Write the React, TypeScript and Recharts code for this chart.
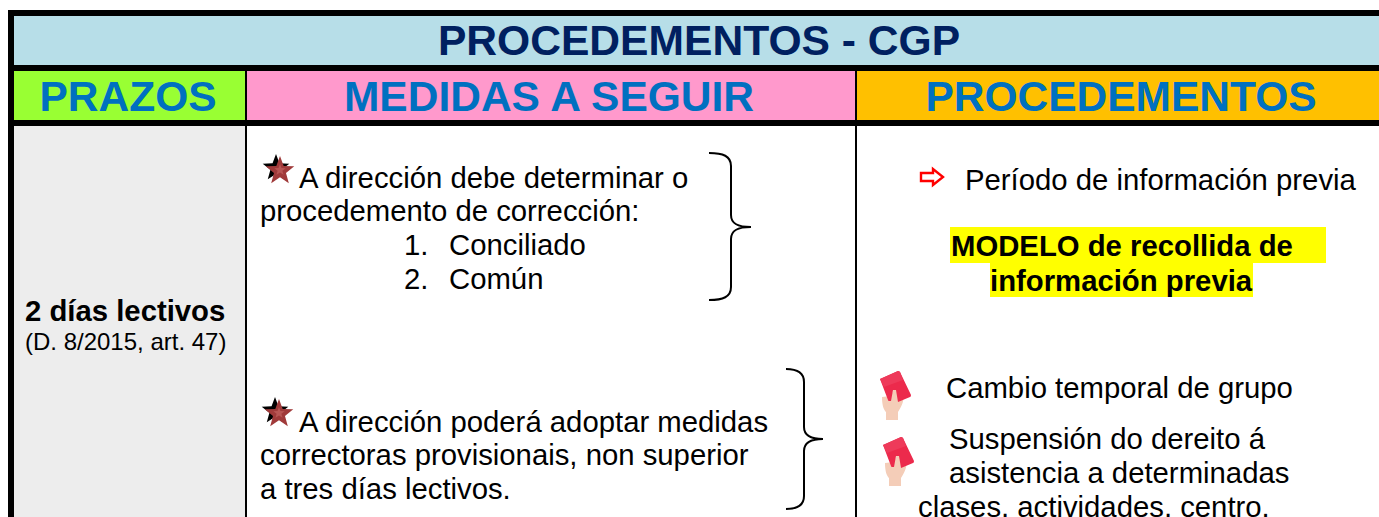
import React from "react";
import { ComposedChart, XAxis, YAxis, ReferenceArea, Scatter } from "recharts";

const WIDTH = 1379;
const HEIGHT = 517;
const FONT = "'Liberation Sans', Arial, sans-serif";

// Table grid on a page-unit scale
const columnEdges = [14, 245, 247, 855, 857, 1379];
const rowEdges = [16, 65, 71, 120, 126, 517];

// Texts
const titleLabels = ["PROCEDEMENTOS - CGP"];
const titleX = [699];
const titleY = [55];

const headerLabels = ["PRAZOS", "MEDIDAS A SEGUIR", "PROCEDEMENTOS"];
const headerX = [128, 549, 1121];
const headerY = [111, 111, 111];

const bodyLabels = [
  "A dirección debe determinar o",
  "procedemento de corrección:",
  "1.",
  "Conciliado",
  "2.",
  "Común",
  "A dirección poderá adoptar medidas",
  "correctoras provisionais, non superior",
  "a tres días lectivos.",
  "Período de información previa",
  "Cambio temporal de grupo",
  "Suspensión do dereito á",
  "asistencia a determinadas",
  "clases, actividades, centro.",
];
const bodyX = [299, 260, 404, 449, 404, 449, 299, 260, 260, 965, 946, 949, 949, 918];
const bodyY = [188, 221, 255, 255, 289, 289, 432, 465, 499, 190, 398, 449, 483, 517];

const boldLabels = ["MODELO de recollida de", "información previa", "2 días lectivos"];
const boldX = [951, 990, 25];
const boldY = [256, 291, 321];

const smallLabels = ["(D. 8/2015, art. 47)"];
const smallX = [25];
const smallY = [350];

// Icons
const starX = [280, 279];
const starY = [171, 414];
const arrowX = [932];
const arrowY = [177];
const cardX = [895, 898];
const cardY = [398, 464];
const braceX = [709, 786];
const braceSpine = [731, 804];
const braceTop = [153, 369];
const braceBottom = [300, 509];
const braceTip = [751, 823];
const braceMid = [227, 439];

const zip = (xs: number[], ys: number[], labels?: string[]) =>
  xs.map((x, i) => ({ x, y: ys[i], label: labels ? labels[i] : "" }));

const makeText =
  (size: number, weight: string, color: string, anchor: string) =>
  (p: any) => (
    <text
      x={p.cx}
      y={p.cy}
      fontFamily={FONT}
      fontSize={size}
      fontWeight={weight}
      fill={color}
      textAnchor={anchor as any}
    >
      {p.payload.label}
    </text>
  );

const starPoints = (cx: number, cy: number, r: number) => {
  const pts: string[] = [];
  for (let i = 0; i < 10; i++) {
    const a = -Math.PI / 2 + (i * Math.PI) / 5;
    const rr = i % 2 === 0 ? r : r * 0.42;
    pts.push(`${cx + rr * Math.cos(a)},${cy + rr * Math.sin(a)}`);
  }
  return pts.join(" ");
};

const StarShape = (p: any) => (
  <g>
    <polygon points={starPoints(p.cx - 4, p.cy - 3, 14)} fill="#000" />
    <polygon points={starPoints(p.cx, p.cy, 15)} fill="#a03a3a" />
    <polygon points={starPoints(p.cx, p.cy - 1, 6)} fill="#b85654" />
  </g>
);

const ArrowShape = (p: any) => (
  <path
    transform={`translate(${p.cx} ${p.cy})`}
    d="M-11,-4 H1 V-8 L11,0 L1,8 V4 H-11 Z"
    fill="#fff"
    stroke="#f00"
    strokeWidth={2.4}
  />
);

const CardShape = (p: any) => (
  <g transform={`translate(${p.cx} ${p.cy})`}>
    <path d="M-13,-1 C-13,8 -11,12 -9,14 V22 H3 V14 C8,6 9,2 8,-2 L3,-4 V-10 H-1 L-4,-2 Z" fill="#f4cdb8" />
    <path d="M-15,-19 L3,-27 Q4,-27 5,-26 L16,-3 Q16,-1 15,-1 L3,4 L1,-8 L-2,-8 L-4,3 L-6,3 Q-7,3 -7,2 Z" fill="#ec2a4c" />
    <path d="M-15,-19 L3,-27 Q4,-27 5,-26 L8,-18 L-11,-11 Z" fill="#ee3a5a" />
  </g>
);

const BraceShape = (p: any) => {
  const { x, y, top, bottom, tip, spine } = p.payload;
  const k = p.cy - y;
  const x0 = p.cx;
  const tipX = p.cx + (tip - x);
  const sp = p.cx + (spine - x);
  const t = top + k;
  const b = bottom + k;
  const m = p.cy;
  return (
    <path
      d={`M${x0},${t} C${sp - 8},${t} ${sp},${t + 3} ${sp},${t + 13}
          V${m - 12} C${sp},${m - 3} ${sp + 7},${m} ${tipX},${m}
          C${sp + 7},${m} ${sp},${m + 3} ${sp},${m + 12}
          V${b - 13} C${sp},${b - 3} ${sp - 8},${b} ${x0},${b}`}
      fill="none"
      stroke="#000"
      strokeWidth={2}
    />
  );
};

const braces = braceX.map((x, i) => ({
  x,
  y: braceMid[i],
  top: braceTop[i],
  bottom: braceBottom[i],
  tip: braceTip[i],
  spine: braceSpine[i],
}));

const Area = (x1: number, x2: number, y1: number, y2: number, fill: string, key: string) => (
  <ReferenceArea
    key={key}
    x1={x1}
    x2={x2}
    y1={y1}
    y2={y2}
    fill={fill}
    fillOpacity={1}
    stroke="none"
    ifOverflow="visible"
  />
);

const [c0, c1, c2, c3, c4, c5] = columnEdges;
const [r0, r1, r2, r3, r4, r5] = rowEdges;

export default function App() {
  return (
    <div style={{ position: "fixed", left: 0, top: 0, width: WIDTH, height: HEIGHT, background: "#fff" }}>
      <ComposedChart width={WIDTH} height={HEIGHT} margin={{ top: 0, right: 0, bottom: 0, left: 0 }} data={[]}>
        <XAxis type="number" dataKey="x" domain={[0, WIDTH]} hide allowDataOverflow />
        <YAxis type="number" dataKey="y" domain={[0, HEIGHT]} reversed hide allowDataOverflow />

        {Area(8, WIDTH, 10, HEIGHT, "#000", "frame")}
        {Area(c0, c5, r0, r1, "#B7DEE8", "title")}
        {Area(c0, c1, r2, r3, "#99FF33", "h1")}
        {Area(c2, c3, r2, r3, "#FF99CC", "h2")}
        {Area(c4, c5, r2, r3, "#FFC000", "h3")}
        {Area(c0, c1, r4, r5, "#EDEDED", "b1")}
        {Area(c2, c3, r4, r5, "#FFFFFF", "b2")}
        {Area(c4, c5, r4, r5, "#FFFFFF", "b3")}
        {Area(950, 1326, 227, 263, "#FFFF00", "hl1")}
        {Area(990, 1253, 263, 297, "#FFFF00", "hl2")}

        <Scatter isAnimationActive={false} data={zip(titleX, titleY, titleLabels)} shape={makeText(42.6, "bold", "#002060", "middle")} />
        <Scatter isAnimationActive={false} data={zip(headerX, headerY, headerLabels)} shape={makeText(42.5, "bold", "#0070C0", "middle")} />
        <Scatter isAnimationActive={false} data={zip(bodyX, bodyY, bodyLabels)} shape={makeText(29.3, "normal", "#000", "start")} />
        <Scatter isAnimationActive={false} data={zip(boldX, boldY, boldLabels)} shape={makeText(29.3, "bold", "#000", "start")} />
        <Scatter isAnimationActive={false} data={zip(smallX, smallY, smallLabels)} shape={makeText(24, "normal", "#000", "start")} />
        <Scatter isAnimationActive={false} data={zip(starX, starY)} shape={StarShape} />
        <Scatter isAnimationActive={false} data={zip(arrowX, arrowY)} shape={ArrowShape} />
        <Scatter isAnimationActive={false} data={zip(cardX, cardY)} shape={CardShape} />
        <Scatter isAnimationActive={false} data={braces} shape={BraceShape} />
      </ComposedChart>
    </div>
  );
}
